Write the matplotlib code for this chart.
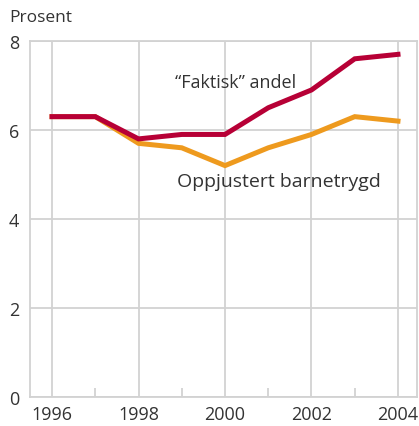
import matplotlib
matplotlib.use("Agg")
import matplotlib.pyplot as plt

# Data
years = [1996, 1997, 1998, 1999, 2000, 2001, 2002, 2003, 2004]
faktisk = [6.3, 6.3, 5.8, 5.9, 5.9, 6.5, 6.9, 7.6, 7.7]
oppjustert = [6.3, 6.3, 5.7, 5.6, 5.2, 5.6, 5.9, 6.3, 6.2]
major_years = [1996, 1998, 2000, 2002, 2004]
minor_years = [1997, 1999, 2001, 2003]
y_ticks = [0, 2, 4, 6, 8]

plt.rcParams['font.family'] = ['Open Sans', 'DejaVu Sans']
grey = '#d2d2d2'
text_col = '#333333'

fig = plt.figure(figsize=(4.19, 4.27), dpi=100)
W, H = 419, 427
ax = fig.add_axes([30 / W, (H - 398) / H, (417 - 30) / W, (398 - 42) / H])

ax.plot(years, oppjustert, color='#ee9a1e', lw=3.6, solid_joinstyle='miter', zorder=3)
ax.plot(years, faktisk, color='#b70036', lw=3.6, solid_joinstyle='miter', zorder=4)

ax.set_xlim(1995.49, 2004.44)
ax.set_ylim(0, 8)
ax.set_xticks(major_years)
ax.set_xticks(minor_years, minor=True)
ax.set_yticks(y_ticks)
ax.grid(True, which='major', color=grey, lw=1.3)
ax.set_axisbelow(True)

for s in ax.spines.values():
    s.set_color(grey)
    s.set_linewidth(1.3)

ax.tick_params(axis='both', which='major', length=0, labelsize=13, labelcolor=text_col)
ax.tick_params(axis='x', which='major', pad=6)
ax.tick_params(axis='y', which='major', pad=8)
ax.tick_params(axis='x', which='minor', direction='in', length=6.5, width=1.3, color=grey)

fig.text(9 / W, 1 - 18 / H, 'Prosent', fontsize=12.5, color=text_col,
         va='center', ha='left')
ax.text(1998.84, 7.08, '\u201cFaktisk\u201d andel', fontsize=13, color=text_col,
        va='center', ha='left')
ax.text(1998.88, 4.85, 'Oppjustert barnetrygd', fontsize=14, color=text_col,
        va='center', ha='left')

fig.savefig('out.png', dpi=100)
